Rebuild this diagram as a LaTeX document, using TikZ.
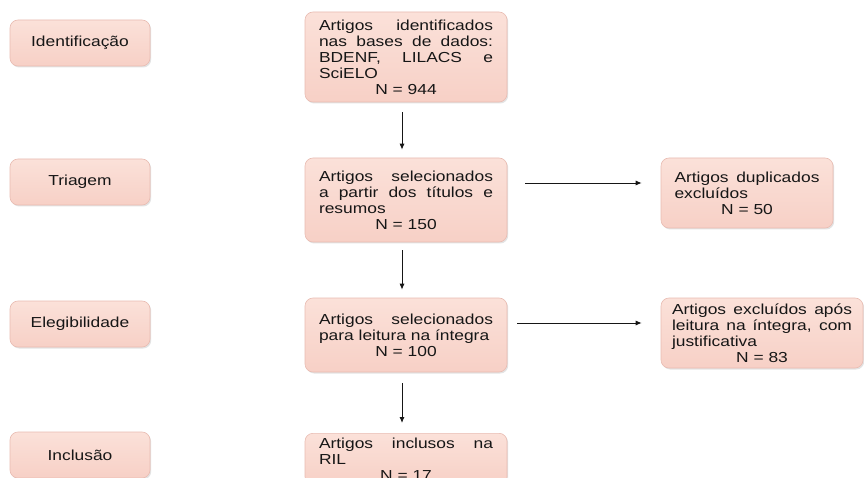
\documentclass[tikz,border=0pt]{standalone}
\usepackage{fontspec}
\setmainfont{Liberation Sans}[FakeStretch=1.2]
\usetikzlibrary{arrows.meta,shadows}

\definecolor{boxtop}{RGB}{251,225,217}
\definecolor{boxbot}{RGB}{247,208,198}
\definecolor{boxline}{RGB}{233,188,178}
\definecolor{ink}{RGB}{22,22,22}

% one line of box text: justified, flush left, or centred
\newcommand{\txtJ}[2]{\makebox[#1][s]{#2}}
\newcommand{\txtL}[2]{\makebox[#1][l]{#2}}
\newcommand{\txtC}[2]{\makebox[#1][c]{#2}}

\newlength{\mainw}\setlength{\mainw}{174pt}
\newlength{\dupw}\setlength{\dupw}{145pt}
\newlength{\excw}\setlength{\excw}{180pt}

\begin{document}
\begin{tikzpicture}[x=1pt,y=-1pt,
  basebox/.style={rectangle, rounded corners=8pt, draw=boxline, line width=0.6pt,
    top color=boxtop, bottom color=boxbot,
    drop shadow={opacity=0.22, shadow xshift=1.2pt, shadow yshift=-1.5pt},
    text=ink, font=\fontsize{14.5}{16}\selectfont},
  stagebox/.style={basebox, minimum width=140pt, minimum height=46pt, inner sep=2pt},
  flowbox/.style={basebox, align=left, inner xsep=14pt, inner ysep=4pt},
  arr/.style={draw=ink, line width=0.9pt, -{Latex[length=6pt,width=5pt]}}]

\useasboundingbox[fill=white] (0,0) rectangle (864,478);

% stages of the review
\node[stagebox] (s1) at (80,43)  {Identificação};
\node[stagebox] (s2) at (80,182) {Triagem};
\node[stagebox] (s3) at (80,324) {Elegibilidade};
\node[stagebox] (s4) at (80,455) {Inclusão};

% main column
\node[flowbox, minimum height=90pt] (b1) at (406,57) {%
  \txtJ{\mainw}{Artigos identificados}\\
  \txtJ{\mainw}{nas bases de dados:}\\
  \txtJ{\mainw}{BDENF, LILACS e}\\
  \txtL{\mainw}{SciELO}\\
  \txtC{\mainw}{N = 944}};

\node[flowbox, minimum height=84pt] (b2) at (406,200) {%
  \txtJ{\mainw}{Artigos selecionados}\\
  \txtJ{\mainw}{a partir dos títulos e}\\
  \txtL{\mainw}{resumos}\\
  \txtC{\mainw}{N = 150}};

\node[flowbox, minimum height=74pt] (b3) at (406,335) {%
  \txtJ{\mainw}{Artigos selecionados}\\
  \txtL{\mainw}{para leitura na íntegra}\\
  \txtC{\mainw}{N = 100}};

% runs past the lower edge of the page
\node[flowbox, anchor=north, inner ysep=4.5pt] (b4) at (406,433) {%
  \txtJ{\mainw}{Artigos inclusos na}\\
  \txtL{\mainw}{RIL}\\
  \txtC{\mainw}{N = 17}};

% exclusions
\node[flowbox, inner xsep=13.5pt, minimum height=70pt] (d1) at (747,193) {%
  \txtJ{\dupw}{Artigos duplicados}\\
  \txtL{\dupw}{excluídos}\\
  \txtC{\dupw}{N = 50}};

\node[flowbox, inner xsep=11pt, minimum height=70pt] (d2) at (762,333) {%
  \txtJ{\excw}{Artigos excluídos após}\\
  \txtJ{\excw}{leitura na íntegra, com}\\
  \txtL{\excw}{justificativa}\\
  \txtC{\excw}{N = 83}};

% vertical flow
\coordinate (v1) at ([xshift=-4pt]b1.south);
\coordinate (v2) at ([xshift=-4pt]b2.south);
\coordinate (v3) at ([xshift=-4pt]b3.south);
\draw[arr, shorten <=10pt, shorten >=8pt] (v1) -- (v1 |- b2.north);
\draw[arr, shorten <=8pt, shorten >=8pt] (v2) -- (v2 |- b3.north);
\draw[arr, shorten <=11pt, shorten >=10pt] (v3) -- (v3 |- b4.north);

% exclusion arrows
\coordinate (h1) at ([yshift=17pt]b2.east);
\coordinate (h2) at ([yshift=12pt]b3.east);
\draw[arr, shorten <=18pt, shorten >=19pt] (h1) -- (h1 -| d1.west);
\draw[arr, shorten <=10pt, shorten >=19pt] (h2) -- (h2 -| d2.west);
\end{tikzpicture}
\end{document}
